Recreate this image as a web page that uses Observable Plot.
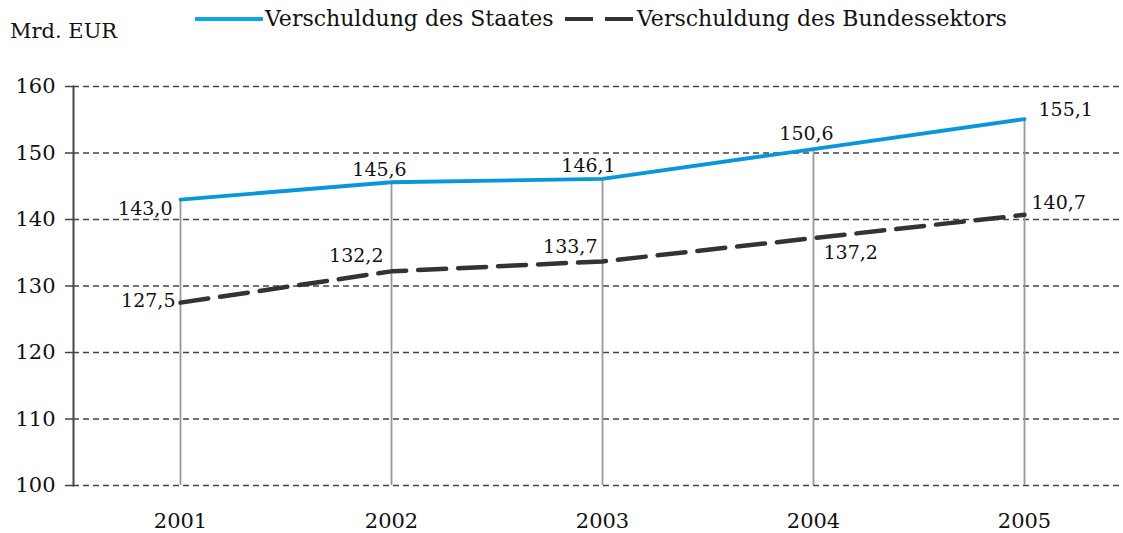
<!DOCTYPE html>
<html>
<head>
<meta charset="utf-8">
<script src="https://cdn.jsdelivr.net/npm/d3@7"></script>
<script src="https://cdn.jsdelivr.net/npm/@observablehq/plot@0.6"></script>
<style>
  html, body { margin: 0; padding: 0; background: #fff; }
  #wrap { position: relative; width: 1123px; height: 533px; font-family: "DejaVu Serif", serif; color: #111; }
  #unit { position: absolute; left: 10px; top: 19px; font-size: 21px; }
  .leg { position: absolute; top: 6px; font-size: 22px; display: flex; align-items: center; white-space: nowrap; }
  .leg svg { display: block; }
  #chart { position: absolute; left: 0; top: 0; }
</style>
</head>
<body>
<div id="wrap">
  <div id="chart"></div>
  <div id="unit">Mrd. EUR</div>
  <div class="leg" style="left:195px"><svg width="70" height="10"><line x1="0" x2="68" y1="5" y2="5" stroke="#0aa6e6" stroke-width="4"/></svg><span>Verschuldung des Staates</span></div>
  <div class="leg" style="left:565px"><svg width="72" height="10"><line x1="0" x2="70" y1="5" y2="5" stroke="#333" stroke-width="4" stroke-dasharray="28,12"/></svg><span>Verschuldung des Bundessektors</span></div>
</div>
<script>
const years = ["2001", "2002", "2003", "2004", "2005"];
const staat = [143.0, 145.6, 146.1, 150.6, 155.1];
const bund = [127.5, 132.2, 133.7, 137.2, 140.7];
const yTicks = [100, 110, 120, 130, 140, 150, 160];
const seriesNames = ["Verschuldung des Staates", "Verschuldung des Bundessektors"];

const rows = years.map((y, i) => ({year: y, staat: staat[i], bund: bund[i]}));
const fmt = v => v.toFixed(1).replace(".", ",");

function lab(key, yr, opts) {
  return Plot.text(rows.filter(d => d.year === yr), {
    x: "year", y: key, text: d => fmt(d[key]),
    fontSize: 19, fill: "#111", ...opts
  });
}

const chart = Plot.plot({
  width: 1123,
  height: 533,
  marginLeft: 73,
  marginRight: -8,
  marginTop: 86,
  marginBottom: 48,
  style: {fontFamily: "DejaVu Serif, serif", fontSize: "21px", color: "#111", background: "transparent"},
  x: {type: "point", domain: years, padding: 0.5, label: null},
  y: {domain: [100, 160], label: null},
  marks: [
    Plot.ruleY(yTicks, {stroke: "#444", strokeWidth: 1.5, strokeDasharray: "6,4"}),
    Plot.ruleX(rows, {x: "year", y1: 100, y2: "staat", stroke: "#999", strokeWidth: 1.8}),
    Plot.frame({anchor: "left", stroke: "#444", strokeWidth: 2}),
    Plot.axisY({ticks: yTicks, tickSize: 8, tickPadding: 10, stroke: "#444", strokeWidth: 1.5, fontSize: 21, tickFormat: d => d}),
    Plot.axisX({tickSize: 0, tickPadding: 28, fontSize: 21}),
    Plot.line(rows, {x: "year", y: "bund", stroke: "#333", strokeWidth: 4.5, strokeDasharray: "28,12"}),
    Plot.line(rows, {x: "year", y: "staat", stroke: "#0a97d9", strokeWidth: 3.8}),
    lab("staat", "2001", {textAnchor: "end", dx: -8, dy: 9}),
    lab("staat", "2002", {textAnchor: "middle", dx: -12, dy: -12}),
    lab("staat", "2003", {textAnchor: "middle", dx: -14, dy: -13}),
    lab("staat", "2004", {textAnchor: "middle", dx: -7, dy: -15}),
    lab("staat", "2005", {textAnchor: "start", dx: 14, dy: -9}),
    lab("bund", "2001", {textAnchor: "end", dx: -5, dy: -2}),
    lab("bund", "2002", {textAnchor: "end", dx: -8, dy: -15}),
    lab("bund", "2003", {textAnchor: "end", dx: -5, dy: -14}),
    lab("bund", "2004", {textAnchor: "start", dx: 10, dy: 15}),
    lab("bund", "2005", {textAnchor: "start", dx: 7, dy: -12})
  ]
});
document.getElementById("chart").appendChild(chart);
</script>
</body>
</html>
